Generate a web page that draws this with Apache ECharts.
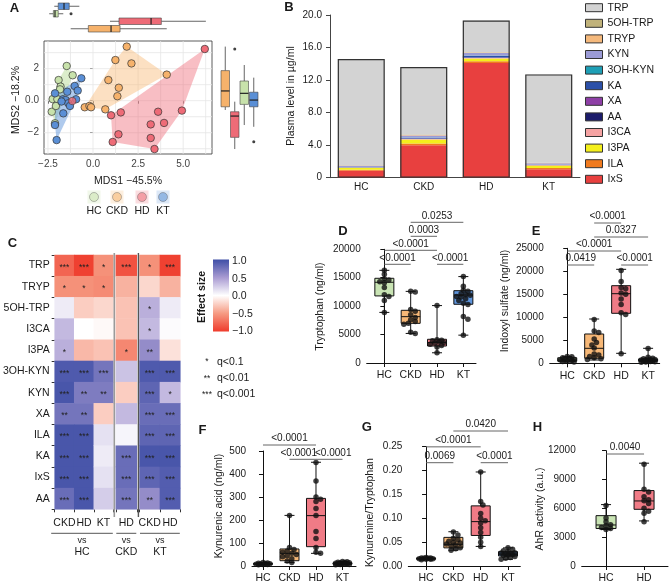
<!DOCTYPE html>
<html><head><meta charset="utf-8">
<script src="https://cdn.jsdelivr.net/npm/echarts@6/dist/echarts.min.js"></script>
<style>html,body{margin:0;padding:0;background:#fff}#c{width:669px;height:586px}</style>
</head><body><div id="c"></div>
<script>
// ================= DATA =================
const groups = ['HC','CKD','HD','KT'];
// ---- Panel A: MDS coordinates [MDS1, MDS2]
const mdsHC  = [[-1.46,2.17],[-1.13,1.59],[-1.91,1.29],[-1.80,0.88],[-1.83,0.71],[-2.24,0.10],[-1.98,0.10],[-2.29,-0.69],[-2.06,-0.33],[-2.11,-1.41]];
const mdsCKD = [[1.87,3.38],[1.24,2.54],[2.13,2.33],[4.09,1.63],[0.85,1.29],[1.43,0.81],[1.35,0.28],[-0.46,-0.41],[-0.20,-0.33],[-0.11,-0.41],[0.68,-0.54]];
const mdsHD  = [[6.20,3.23],[3.61,-0.69],[4.93,-0.62],[1.54,-0.73],[1.00,-0.91],[3.20,-1.48],[3.94,-1.39],[1.41,-2.10],[3.20,-2.33],[1.09,-2.58],[3.41,-3.02]];
const mdsHDextra = [[-1.15,-0.02]];
const mdsKT  = [[-0.65,1.40],[-1.02,0.92],[-0.85,0.63],[-1.43,0.56],[-2.11,0.46],[-1.67,0.09],[-1.52,0.04],[-1.37,-0.16],[-1.28,-0.33],[-0.94,0.09],[-1.65,-0.79],[-2.11,-1.52],[-2.02,-2.46],[-1.75,-0.05]];
// marginal box stats [min,q1,median,q3,max], order CKD, HD, HC, KT
const marginOrder = ['CKD','HD','HC','KT'];
const mds1Box = [[-1.24,-0.26,1.00,1.50,4.09],[0.94,1.44,3.22,3.79,6.26],[-2.43,-2.20,-2.11,-1.93,-1.65],[-2.15,-1.93,-1.61,-1.32,-0.76]];
const mds1Out = [[],[],[-1.22],[]];
const mds2Box = [[-0.58,-0.38,0.61,1.88,3.38],[-3.02,-2.29,-0.96,-0.69,-0.06],[-1.52,-0.23,0.46,1.23,2.23],[-1.63,-0.38,0.04,0.53,1.44]];
const mds2Out = [[],[3.23],[],[-2.56]];
const aTicksX = [-2.5,0,2.5,5];
const aTicksY = [-2,0,2];
const aGridX = [-2.5,-1.25,0,1.25,2.5,3.75,5,6.25];
const aGridY = [-3,-2,-1,0,1,2,3];

// ---- Panel B: plasma levels (ug/ml), stacked bottom -> top
const bCats = ['HC','CKD','HD','KT'];
const bIxS   = [0.85,4.00,14.10,1.05];
const bILA   = [0.12,0.20,0.20,0.15];
const bI3PA  = [0.25,0.50,0.35,0.30];
const bI3CA  = [0.03,0.05,0.05,0.02];
const bAA    = [0.01,0.05,0.05,0.02];
const bXA    = [0.01,0.02,0.03,0.01];
const bKA    = [0.01,0.10,0.20,0.02];
const b3OHKYN= [0.02,0.03,0.05,0.02];
const bKYN   = [0.18,0.25,0.30,0.20];
const bTRYP  = [0.03,0.05,0.05,0.02];
const b5OHTRP= [0.03,0.05,0.05,0.02];
const bTRP   = [13.06,8.30,3.90,10.87];

// ---- Panel C: effect sizes
const metabsC = ['TRP','TRYP','5OH-TRP','I3CA','I3PA','3OH-KYN','KYN','XA','ILA','KA','IxS','AA'];
const esCKDvsHC = [-0.78,-0.55, 0.10, 0.35, 0.40, 0.92, 0.95, 0.75, 0.95, 0.95, 0.95, 0.80];
const esHDvsHC  = [-0.97,-0.55,-0.25, 0.00,-0.35, 0.92, 0.70, 0.75, 0.95, 0.95, 0.95, 0.95];
const esKTvsHC  = [-0.55,-0.58,-0.20,-0.03,-0.30, 0.75, 0.70,-0.25, 0.15, 0.10, 0.15, 0.25];
const esHDvsCKD = [-0.88,-0.38,-0.30,-0.30,-0.60, 0.30,-0.25, 0.35, 0.05, 0.80, 0.80, 0.75];
const esCKDvsKT = [-0.55,-0.20, 0.40, 0.35, 0.60, 0.92, 0.85, 0.80, 0.85, 0.95, 0.85, 0.60];
const esHDvsKT  = [-0.97,-0.38, 0.10, 0.02,-0.15, 0.92, 0.35, 0.80, 0.85, 0.95, 0.90, 0.90];
const sigCKDvsHC = ['***','*','','','*','***','***','**','***','***','***','***'];
const sigHDvsHC  = ['***','*','','','','***','**','**','***','***','***','***'];
const sigKTvsHC  = ['*','*','','','','***','**','','','','',''];
const sigHDvsCKD = ['***','','','','*','','','','','***','***','***'];
const sigCKDvsKT = ['*','','*','*','**','***','***','***','***','***','***','**'];
const sigHDvsKT  = ['***','','','','','***','*','***','***','***','***','***'];
const esTicks = [1.0,0.5,0.0,-0.5,-1.0];

// ---- Panel D: Tryptophan (ng/ml)
const dHC  = [16300,15600,14800,14600,14300,14100,13300,12000,11700,11000,8900];
const dCKD = [12600,12500,9400,9100,8500,8000,7600,7300,7000,6800,5400,5200];
const dHD  = [10100,4100,4000,3900,3700,3600,3500,3300,3100,2800,1800];
const dKT  = [15200,13500,12800,12600,12200,12000,11900,11700,11600,11300,11000,10500,10300,8200,7700,4900];
const dBox = [[8900,11800,14200,14900,16300],[5200,6980,8150,9270,12600],[1800,2990,3600,4170,10100],[4900,10330,11960,12720,15200]];
const dBrk = [[0,1,'<0.0001',0],[2,3,'<0.0001',0],[0,2,'<0.0001',1],[1,2,'0.0003',2],[1,3,'0.0253',3]];
// ---- Panel E: Indoxyl sulfate (ng/ml)
const eHC  = [1500,1400,1200,1000,900,800,700,600,500,400,300];
const eCKD = [9500,7000,6700,5300,4500,4000,3300,2000,1800,1500,1200,1000,800];
const eHD  = [20200,17800,16500,16200,15300,15000,14000,12800,11000,10600,2100];
const eKT  = [3200,1300,1100,1000,900,800,750,700,600,500,450,400,350,300,250];
const eBox = [[300,450,700,1200,1500],[720,1090,3260,6370,9630],[2170,10870,15130,16870,20430],[250,450,700,950,3260]];
const eBrk = [[0,1,'0.0419',0],[2,3,'<0.0001',0],[0,2,'<0.0001',1],[1,3,'0.0327',2],[1,2,'<0.0001',3]];
// ---- Panel F: Kynurenic acid (ng/ml)
const fHC  = [15,13,12,11,10,9,8,7,6,5];
const fCKD = [220,80,72,65,60,55,50,45,40,32,22,15];
const fHD  = [450,370,300,290,280,250,220,150,120,80,60,55];
const fKT  = [20,18,16,15,14,13,12,11,10,9,8,7,6,5];
const fBox = [[5,7,9,12,15],[15,23,55,74,220],[55,84,219,294,451],[5,8,11,14,20]];
const fBrk = [[1,2,'<0.0001',0],[2,3,'<0.0001',0],[0,2,'<0.0001',1]];
// ---- Panel G: Kynurenine/Tryptophan
const gHC  = [0.018,0.017,0.017,0.016,0.016,0.015,0.015,0.014,0.014,0.013];
const gCKD = [0.071,0.065,0.058,0.055,0.052,0.050,0.048,0.046,0.044,0.042,0.038,0.036,0.033];
const gHD  = [0.197,0.135,0.128,0.110,0.100,0.095,0.090,0.080,0.070,0.060,0.050,0.041];
const gKT  = [0.038,0.035,0.032,0.030,0.028,0.027,0.026,0.025,0.024,0.023,0.022,0.020,0.018,0.016,0.014];
const gBox = [[0.013,0.014,0.0155,0.017,0.018],[0.033,0.038,0.0454,0.060,0.0718],[0.041,0.064,0.093,0.126,0.197],[0.014,0.021,0.025,0.030,0.038]];
const gBrk = [[0,1,'0.0069',0],[2,3,'<0.0001',0],[0,2,'<0.0001',1],[1,3,'0.0420',2]];
// ---- Panel H: AhR activity (a.u.)
const hCats = ['HC','HD'];
const hHC = [6300,5000,4600,4300,4200,4000,3900,3800];
const hHD = [10600,8000,7700,7200,6900,6800,6500,6000,5700,5500,4600];
const hBox = [[3800,3900,4270,5240,6390],[4690,5900,6770,7850,10700]];
const hBrk = [[0,1,'0.0040',0]];

// ================= STYLE / LAYOUT =================
const FONT = "'Liberation Sans', Arial, Helvetica, sans-serif";
const TXT = '#1a1a1a';
const ptCol = {HC:'#c8e2ab', CKD:'#f6b26b', HD:'#ee6b77', KT:'#5a8fd6'};
const hullCol = {HC:'rgba(190,222,160,0.55)', CKD:'rgba(248,180,110,0.42)', HD:'rgba(238,100,115,0.42)', KT:'rgba(95,150,220,0.5)'};
const gpCol = {HC:'#c9e4b4', CKD:'#f7b877', HD:'#f07b86', KT:'#5f95dc'};
const bColors = {IxS:'#e8403f', ILA:'#f07a1e', I3PA:'#f4ef1c', I3CA:'#f5a3a3', AA:'#1c1c6b', XA:'#8e3fa6', KA:'#2c50a8', '3OH-KYN':'#1e9fb6', KYN:'#9b9bd6', TRYP:'#f5b97c', '5OH-TRP':'#c0b27a', TRP:'#d3d3d3'};

const grids=[], xAxes=[], yAxes=[], series=[], graphics=[];
function addGrid(g){ grids.push(Object.assign({containLabel:false},g)); return grids.length-1; }

function T(text,x,y,o={}){ graphics.push({type:'text', x, y, rotation:o.rot||0, silent:true, z:100,
  style:{text, fontSize:o.fs||10, fontWeight:o.fw||'normal', fontFamily:FONT, fill:o.fill||TXT, align:o.align||'center', verticalAlign:o.va||'middle'}}); }
function L(x1,y1,x2,y2,stroke,w){ graphics.push({type:'line', silent:true, z:100, shape:{x1,y1,x2,y2}, style:{stroke:stroke||'#555', lineWidth:w||1}}); }

function convexHull(pts){
  const p=[...pts].sort((a,b)=>a[0]-b[0]||a[1]-b[1]);
  const cr=(o,a,b)=>(a[0]-o[0])*(b[1]-o[1])-(a[1]-o[1])*(b[0]-o[0]);
  const lo=[],up=[];
  for(const q of p){while(lo.length>=2&&cr(lo[lo.length-2],lo[lo.length-1],q)<=0)lo.pop();lo.push(q);}
  for(let i=p.length-1;i>=0;i--){const q=p[i];while(up.length>=2&&cr(up[up.length-2],up[up.length-1],q)<=0)up.pop();up.push(q);}
  up.pop();lo.pop();return lo.concat(up);
}

// generic box renderer: item [pos,min,q1,med,q3,max,colorIndex]
function boxSeries(xi, yi, items, cfg){
  return {type:'custom', xAxisIndex:xi, yAxisIndex:yi, data:items, clip:false, silent:true, z:cfg.z||3,
    renderItem(params, api){
      const pos=api.value(0);
      const vals=[api.value(1),api.value(2),api.value(3),api.value(4),api.value(5)];
      const col=cfg.colors[api.value(6)];
      const P=v=>cfg.horizontal?api.coord([v,pos]):api.coord([pos,v]);
      const [a,b,m,c,d]=vals.map(P);
      const hw=cfg.boxW/2, cw=cfg.capW/2, ch=[];
      const ws={stroke:cfg.whisker, lineWidth:cfg.wlw};
      if(cfg.horizontal){
        const y=a[1];
        ch.push({type:'line',shape:{x1:a[0],y1:y,x2:b[0],y2:y},style:ws});
        ch.push({type:'line',shape:{x1:c[0],y1:y,x2:d[0],y2:y},style:ws});
        ch.push({type:'rect',shape:{x:b[0],y:y-hw,width:c[0]-b[0],height:2*hw},style:{fill:col,stroke:cfg.stroke,lineWidth:cfg.lw}});
        ch.push({type:'line',shape:{x1:m[0],y1:y-hw,x2:m[0],y2:y+hw},style:{stroke:cfg.median,lineWidth:cfg.mlw}});
      } else {
        const x=a[0];
        ch.push({type:'line',shape:{x1:x,y1:a[1],x2:x,y2:b[1]},style:ws});
        ch.push({type:'line',shape:{x1:x,y1:c[1],x2:x,y2:d[1]},style:ws});
        if(cw>0){
          ch.push({type:'line',shape:{x1:x-cw,y1:a[1],x2:x+cw,y2:a[1]},style:ws});
          ch.push({type:'line',shape:{x1:x-cw,y1:d[1],x2:x+cw,y2:d[1]},style:ws});
        }
        ch.push({type:'rect',shape:{x:x-hw,y:c[1],width:2*hw,height:b[1]-c[1]},style:{fill:col,stroke:cfg.stroke,lineWidth:cfg.lw}});
        ch.push({type:'line',shape:{x1:x-hw,y1:m[1],x2:x+hw,y2:m[1]},style:{stroke:cfg.median,lineWidth:cfg.mlw}});
      }
      return {type:'group',children:ch};
    }};
}

// ================= PANEL A =================
const gA = addGrid({left:44, top:41, width:168, height:113, show:true, borderColor:'#333', borderWidth:0.8});
const aFmt = v => Math.abs(v)<1e-9 ? '0.0' : (v<0?'\u2212':'') + Math.abs(v).toFixed(1);
xAxes.push({gridIndex:gA, type:'value', min:-2.72, max:6.6, axisLine:{show:false},
  axisTick:{show:true, length:3, customValues:aTicksX, lineStyle:{color:'#333'}},
  axisLabel:{customValues:aTicksX, formatter:aFmt, fontSize:10, color:'#444', margin:5, fontFamily:FONT}, splitLine:{show:false}});
yAxes.push({gridIndex:gA, type:'value', min:-3.33, max:3.73, axisLine:{show:false},
  axisTick:{show:true, length:3, customValues:aTicksY, lineStyle:{color:'#333'}},
  axisLabel:{customValues:aTicksY, formatter:v=>Math.abs(v)<1e-9?'0.0':(v<0?'\u2212':'')+Math.abs(v), fontSize:10, color:'#444', margin:5, fontFamily:FONT}, splitLine:{show:false}});
series.push({type:'custom', xAxisIndex:gA, yAxisIndex:gA, silent:true, z:1,
  data: aGridX.map(v=>[v,0,0]).concat(aGridY.map(v=>[0,v,1])),
  renderItem(p, api){ const cs=p.coordSys;
    if(api.value(2)===0){const x=api.coord([api.value(0),0])[0]; return {type:'line',shape:{x1:x,y1:cs.y,x2:x,y2:cs.y+cs.height},style:{stroke:'#e6e6e6',lineWidth:0.8}};}
    const y=api.coord([0,api.value(1)])[1]; return {type:'line',shape:{x1:cs.x,y1:y,x2:cs.x+cs.width,y2:y},style:{stroke:'#e6e6e6',lineWidth:0.8}};
  }});
function hullSeries(pts, fill){ const h=convexHull(pts);
  return {type:'custom', xAxisIndex:gA, yAxisIndex:gA, silent:true, z:2, data:[h[0]],
    renderItem(p,api){ return {type:'polygon', shape:{points:h.map(q=>api.coord(q))}, style:{fill, stroke:'none'}}; }}; }
series.push(hullSeries(mdsCKD, hullCol.CKD), hullSeries(mdsHD, hullCol.HD), hullSeries(mdsHC, hullCol.HC), hullSeries(mdsKT, hullCol.KT));
const aPts = {HC:mdsHC, CKD:mdsCKD, HD:mdsHD, KT:mdsKT};
['HC','CKD','HD','KT'].forEach(g=>series.push({type:'scatter', name:'A_'+g, xAxisIndex:gA, yAxisIndex:gA, data:aPts[g], symbolSize:7.5, z:5, silent:true,
  itemStyle:{color:ptCol[g], borderColor:'#333', borderWidth:0.7, opacity:1}}));
series.push({type:'scatter', xAxisIndex:gA, yAxisIndex:gA, data:mdsHDextra, symbolSize:7.5, z:5, silent:true, itemStyle:{color:ptCol.HD, borderColor:'#333', borderWidth:0.7}});
// top marginal
const gAt = addGrid({left:44, top:2.5, width:168, height:30});
xAxes.push({gridIndex:gAt, type:'value', min:-2.72, max:6.6, show:false});
yAxes.push({gridIndex:gAt, type:'value', min:0, max:4, show:false});
const mColors = marginOrder.map(g=>ptCol[g]);
series.push(boxSeries(gAt, gAt, mds1Box.map((b,i)=>[i+0.5,...b,i]), {horizontal:true, boxW:6.5, capW:0, colors:mColors, stroke:'#444', lw:0.6, whisker:'#666', wlw:1, median:'#222', mlw:1.2}));
series.push({type:'scatter', xAxisIndex:gAt, yAxisIndex:gAt, silent:true, symbolSize:3, itemStyle:{color:'#111'},
  data: mds1Out.flatMap((arr,i)=>arr.map(v=>[v,i+0.5]))});
// right marginal
const gAr = addGrid({left:220.5, top:41, width:38, height:113});
xAxes.push({gridIndex:gAr, type:'value', min:0, max:4, show:false});
yAxes.push({gridIndex:gAr, type:'value', min:-3.33, max:3.73, show:false});
series.push(boxSeries(gAr, gAr, mds2Box.map((b,i)=>[i+0.5,...b,i]), {horizontal:false, boxW:8.5, capW:0, colors:mColors, stroke:'#444', lw:0.6, whisker:'#666', wlw:1, median:'#222', mlw:1.2}));
series.push({type:'scatter', xAxisIndex:gAr, yAxisIndex:gAr, silent:true, symbolSize:3, itemStyle:{color:'#111'},
  data: mds2Out.flatMap((arr,i)=>arr.map(v=>[i+0.5,v]))});
// A texts
T('A',14.5,8,{fs:13,fw:'bold'});
T('MDS1 \u221245.5%',128,181,{fs:10.5});
T('MDS2 \u221218.2%',16,100,{fs:10.5,rot:Math.PI/2});
const legX = {HC:94, CKD:117, HD:142, KT:163};
['HC','CKD','HD','KT'].forEach(g=>{
  graphics.push({type:'rect', silent:true, z:99, shape:{x:legX[g]-6.5,y:190.5,width:13,height:13}, style:{fill:hullCol[g].replace(/[\d.]+\)$/,'0.22)')}});
  graphics.push({type:'circle', silent:true, z:100, shape:{cx:legX[g],cy:197,r:4.5}, style:{fill:ptCol[g], stroke:'#555', lineWidth:0.7, opacity:0.55}});
  T(g,legX[g],211,{fs:10.5});
});

// ================= PANEL B =================
const gB = addGrid({left:330, top:15, width:250, height:162.7});
xAxes.push({gridIndex:gB, type:'category', data:bCats, axisLine:{show:true, lineStyle:{color:'#444'}}, axisTick:{show:false},
  axisLabel:{fontSize:10, color:TXT, margin:5, fontFamily:FONT}});
yAxes.push({gridIndex:gB, type:'value', min:0, max:20, interval:4, axisLine:{show:true, lineStyle:{color:'#444'}},
  axisTick:{show:true, length:4, lineStyle:{color:'#444'}}, splitLine:{show:false},
  axisLabel:{formatter:v=>v===0?'0':v.toFixed(1), fontSize:10, color:TXT, margin:8, fontFamily:FONT}});
const bStack = [['IxS',bIxS],['ILA',bILA],['I3PA',bI3PA],['I3CA',bI3CA],['AA',bAA],['XA',bXA],['KA',bKA],['3OH-KYN',b3OHKYN],['KYN',bKYN],['TRYP',bTRYP],['5OH-TRP',b5OHTRP],['TRP',bTRP]];
bStack.forEach(([n,arr])=>series.push({type:'bar', name:n, xAxisIndex:gB, yAxisIndex:gB, stack:'tot', data:arr, barWidth:47, silent:true,
  itemStyle:{color:bColors[n], borderWidth:0}}));
const bTotals = bCats.map((c,i)=>bStack.reduce((s,[n,arr])=>s+arr[i],0));
series.push({type:'bar', name:'_total', xAxisIndex:gB, yAxisIndex:gB, data:bTotals, barWidth:47, barGap:'-100%', silent:true, z:4,
  itemStyle:{color:'rgba(0,0,0,0)', borderColor:'#333', borderWidth:1.2}});
T('B',289,7,{fs:13,fw:'bold'});
T('Plasma level in \u00b5g/ml',291.5,96,{fs:10.5,rot:Math.PI/2});

// ================= PANEL C =================
const heatCols = [
  {grid:{left:50.7,width:62.6}, cols:['CKD','HD','KT'], es:[esCKDvsHC,esHDvsHC,esKTvsHC], sig:[sigCKDvsHC,sigHDvsHC,sigKTvsHC], ref:'HC'},
  {grid:{left:115.8,width:21}, cols:['HD'], es:[esHDvsCKD], sig:[sigHDvsCKD], ref:'CKD'},
  {grid:{left:139.5,width:40.8}, cols:['CKD','HD'], es:[esCKDvsKT,esHDvsKT], sig:[sigCKDvsKT,sigHDvsKT], ref:'KT'}
];
const heatSeriesIdx=[];
heatCols.forEach((hc,k)=>{
  const gi = addGrid({left:hc.grid.left, width:hc.grid.width, top:255, height:254.3});
  xAxes.push({gridIndex:gi, type:'category', data:hc.cols, axisLine:{show:false}, axisTick:{show:true,length:3,lineStyle:{color:'#333'}},
    axisLabel:{interval:0, fontSize:10.5, color:TXT, margin:8, fontFamily:FONT}, splitLine:{show:false}});
  yAxes.push({gridIndex:gi, type:'category', data:metabsC, inverse:true, axisLine:{show:false},
    axisTick:{show:k===0,length:3,lineStyle:{color:'#333'}}, axisLabel:{show:k===0, interval:0, fontSize:10.5, color:TXT, margin:5, fontFamily:FONT}, splitLine:{show:false}});
  const data=[];
  hc.es.forEach((arr,j)=>arr.forEach((v,i)=>data.push([j,i,v,hc.sig[j][i]])));
  heatSeriesIdx.push(series.length);
  series.push({type:'heatmap', xAxisIndex:gi, yAxisIndex:gi, data, silent:true, encode:{x:0,y:1,value:2},
    label:{show:true, formatter:p=>p.value[3], fontSize:8.5, color:'#222', offset:[0,2], fontFamily:FONT}});
  const x1=hc.grid.left+0.5, x2=hc.grid.left+hc.grid.width-0.5, xm=(x1+x2)/2;
  L(x1,533.3,x2,533.3,'#555',1);
  T('vs',xm,540.5,{fs:9});
  T(hc.ref,xm,552,{fs:10.5});
});
L(114.3,253,114.3,517,'#9a9a9a',1.6);
L(138.4,253,138.4,517,'#555',1.4);
const esColors = ['#ef3b2c','#f69a82','#ffffff','#a99bd2','#3e4ea6'];
graphics.push({type:'rect', silent:true, z:100, shape:{x:213,y:259.5,width:16,height:72},
  style:{fill:new echarts.graphic.LinearGradient(0,0,0,1,[{offset:0,color:esColors[4]},{offset:0.25,color:esColors[3]},{offset:0.5,color:esColors[2]},{offset:0.75,color:esColors[1]},{offset:1,color:esColors[0]}])}});
esTicks.forEach((v,i)=>T((v<0?'\u2212':'')+Math.abs(v).toFixed(1),232,261.5+i*17.5,{fs:10.5,align:'left'}));
T('Effect size',202.5,297,{fs:10.5,fw:'bold',rot:Math.PI/2});
[['*','q<0.1'],['**','q<0.01'],['***','q<0.001']].forEach(([s,q],i)=>{T(s,207,362+i*16.2,{fs:8.5}); T(q,217,361.7+i*16.2,{fs:10.5,align:'left'});});
T('C',12.5,243,{fs:13,fw:'bold'});

// ================= PANELS D-H =================
function swarm(vals, idx, pxX, pxY){
  const R=1.9, maxOff=8, placed=[], out=[];
  [...vals].sort((a,b)=>b-a).forEach(v=>{
    const y=v*pxY; let best=0, bestScore=-1;
    for(let k=0;k<=16;k++){
      const off=(k%2?1:-1)*Math.ceil(k/2)*R*1.2;
      if(Math.abs(off)>maxOff) continue;
      let minD=Infinity; placed.forEach(q=>{const d=Math.hypot(q.x-off,q.y-y); if(d<minD)minD=d;});
      if(minD>=2*R){best=off;break;}
      if(minD>bestScore){bestScore=minD;best=off;}
    }
    placed.push({x:best,y}); out.push([idx+best/pxX, v]);
  });
  return out;
}
function gpPanel(cfg){
  const gi=addGrid({left:cfg.left, top:cfg.top, width:cfg.width, height:cfg.height});
  const ticks=cfg.cats.map((c,i)=>i);
  xAxes.push({gridIndex:gi, type:'value', min:cfg.xmin, max:cfg.xmax, splitLine:{show:false},
    axisLine:{show:true,onZero:false,lineStyle:{color:'#111',width:1}},
    axisTick:{show:true,length:4,customValues:ticks,lineStyle:{color:'#111'}},
    axisLabel:{customValues:ticks, formatter:v=>Number.isInteger(v)&&cfg.cats[v]?cfg.cats[v]:'', fontSize:10.5, color:TXT, margin:7, fontFamily:FONT}});
  yAxes.push({gridIndex:gi, type:'value', min:0, max:cfg.ymax, interval:cfg.yint, splitLine:{show:false},
    axisLine:{show:true,lineStyle:{color:'#111',width:1}}, axisTick:{show:true,length:4,lineStyle:{color:'#111'}},
    axisLabel:{formatter:cfg.fmt, fontSize:10, color:TXT, margin:6, fontFamily:FONT}});
  const cols=cfg.cats.map(c=>gpCol[c]);
  series.push(boxSeries(gi, gi, cfg.box.map((b,i)=>[i,...b,i]), {horizontal:false, boxW:cfg.boxW||19, capW:10, colors:cols, stroke:'#111', lw:1, whisker:'#111', wlw:1, median:'#111', mlw:1}));
  const pxX=cfg.width/(cfg.xmax-cfg.xmin), pxY=cfg.height/cfg.ymax;
  const pts=cfg.pts.flatMap((arr,i)=>swarm(arr,i,pxX,pxY));
  series.push({type:'scatter', xAxisIndex:gi, yAxisIndex:gi, data:pts, symbolSize:5.5, silent:true, z:6, itemStyle:{color:'#111'}});
  const brk=cfg.brk, dx=cfg.brDx||[];
  series.push({type:'custom', xAxisIndex:gi, yAxisIndex:gi, clip:false, silent:true, z:7, data:brk.map((b,k)=>[b[0],b[1],b[3],k]),
    renderItem(p,api){
      const i1=api.value(0), i2=api.value(1), lv=api.value(2), k=api.value(3);
      const x1=api.coord([i1,0])[0], x2=api.coord([i2,0])[0];
      const y=cfg.brBase-lv*cfg.brStep;
      return {type:'group',children:[
        {type:'line',shape:{x1,y1:y,x2,y2:y},style:{stroke:'#666',lineWidth:1}},
        {type:'text',x:(x1+x2)/2+(dx[k]||0),y:y-1.5,style:{text:brk[k][2],fontSize:10,fontFamily:FONT,fill:TXT,align:'center',verticalAlign:'bottom'}}]};
    }});
  T(cfg.title, cfg.tx, cfg.ty, {fs:10.5, rot:Math.PI/2});
  T(cfg.letter, cfg.lx, cfg.ly, {fs:13, fw:'bold'});
}
gpPanel({left:366.7, top:249.3, width:109.3, height:113.7, xmin:-0.67, xmax:3.48, ymax:20000, yint:5000, fmt:v=>String(v),
  cats:groups, box:dBox, pts:[dHC,dCKD,dHD,dKT], brk:dBrk, brBase:264.3, brStep:14, title:'Tryptophan (ng/ml)', tx:320.3, ty:306.7, letter:'D', lx:343, ly:231});
gpPanel({left:549.7, top:248.3, width:110, height:115, xmin:-0.65, xmax:3.43, ymax:25000, yint:5000, fmt:v=>String(v),
  cats:groups, box:eBox, pts:[eHC,eCKD,eHD,eKT], brk:eBrk, brBase:265, brStep:14, title:'Indoxyl sulfate (ng/ml)', tx:504.7, ty:301, letter:'E', lx:536, ly:231});
gpPanel({left:252, top:451, width:104, height:115, xmin:-0.415, xmax:3.51, ymax:500, yint:100, fmt:v=>String(v),
  cats:groups, box:fBox, pts:[fHC,fCKD,fHD,fKT], brk:fBrk, brDx:[-4,4,0], brBase:459.3, brStep:14.3, title:'Kynurenic acid (ng/ml)', tx:219, ty:506, letter:'F', lx:202.5, ly:430});
gpPanel({left:408.3, top:446.7, width:112, height:119.3, xmin:-0.65, xmax:3.45, ymax:0.25, yint:0.05, fmt:v=>v.toFixed(2),
  cats:groups, box:gBox, pts:[gHC,gCKD,gHD,gKT], brk:gBrk, brBase:462.7, brStep:15.85, title:'Kynurenine/Tryptophan', tx:369.7, ty:512.5, letter:'G', lx:366.7, ly:427});
gpPanel({left:581.7, top:450.7, width:86.3, height:115.3, xmin:-0.64, xmax:1.63, ymax:12000, yint:3000, fmt:v=>String(v),
  cats:hCats, box:hBox, pts:[hHC,hHD], brk:hBrk, brBase:454, brStep:14, boxW:20, title:'AhR activity (a.u.)', tx:539.7, ty:509, letter:'H', lx:537.5, ly:427});

// ================= CHART =================
const chart = echarts.init(document.getElementById('c'), null, {renderer:'canvas'});
chart.setOption({
  animation:false,
  backgroundColor:'#fff',
  textStyle:{fontFamily:FONT},
  grid:grids, xAxis:xAxes, yAxis:yAxes, series,
  visualMap:[{type:'continuous', show:false, min:-1, max:1, dimension:2, seriesIndex:heatSeriesIdx, inRange:{color:esColors}}],
  legend:{data:['TRP','5OH-TRP','TRYP','KYN','3OH-KYN','KA','XA','AA','I3CA','I3PA','ILA','IxS'], orient:'vertical', left:585, top:1.7, padding:0,
    itemWidth:17, itemHeight:8, itemGap:3.6, icon:'rect', selectedMode:false,
    itemStyle:{borderColor:'#333', borderWidth:1}, textStyle:{fontSize:10.5, color:TXT, lineHeight:12, fontFamily:FONT}},
  graphic:graphics
});
</script></body></html>
